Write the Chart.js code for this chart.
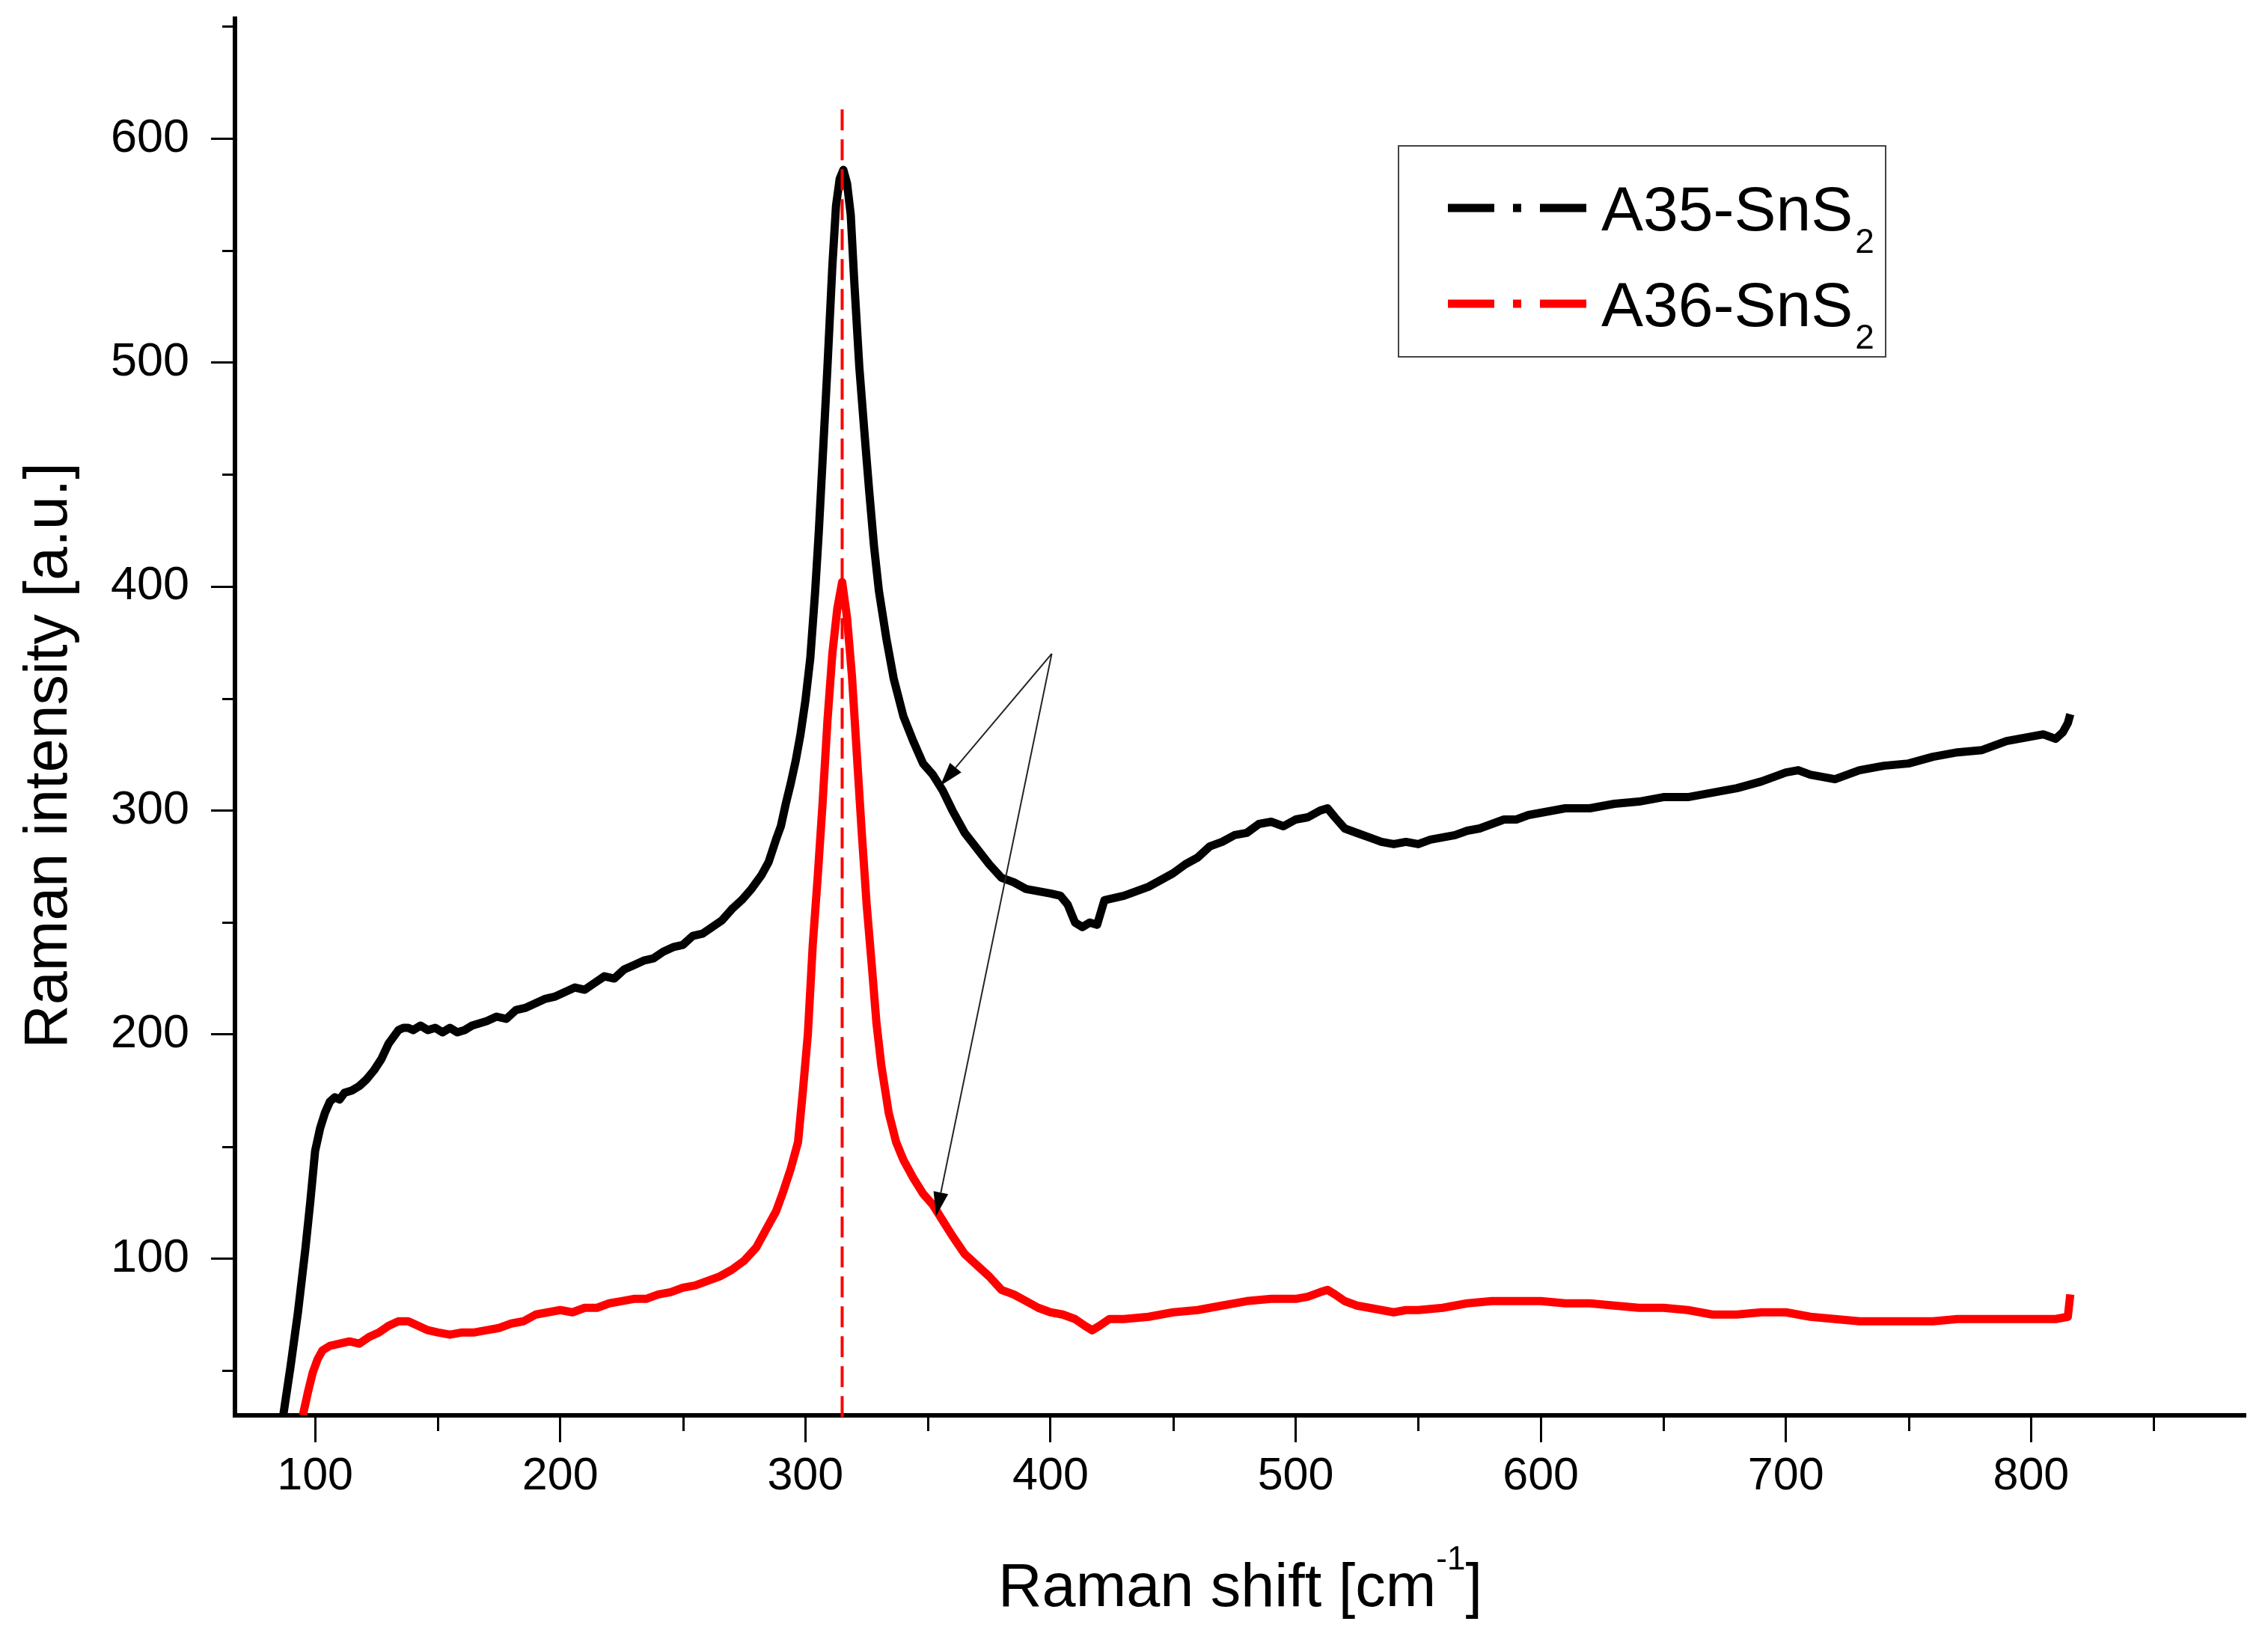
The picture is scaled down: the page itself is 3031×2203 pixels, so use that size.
<!DOCTYPE html>
<html>
<head>
<meta charset="utf-8">
<script src="https://cdn.jsdelivr.net/npm/chart.js@4.4.0/dist/chart.umd.min.js"></script>
<style>
  html, body { margin: 0; padding: 0; background: #fff; }
  #wrap { width: 3031px; height: 2203px; }
</style>
</head>
<body>
<div id="wrap"><canvas id="raman" width="3031" height="2203"></canvas></div>
<script>
// values (Raman shift in cm-1, intensity in a.u.)
const a35Shift = [87,90,93,96,98,100,102,104,106,108,110,112,115,118,121,124,127,130,132,134,136,138,140,143,146,149,152,155,158,161,164,167,170,174,178,182,186,190,194,198,202,206,210,214,218,222,226,230,234,238,242,246,250,254,258,262,266,270,274,278,282,285,288,290,292,294,296,298,300,302,304,305.5,307,309,311,312.5,314,315.5,317,318.5,320,322,324,326,328,330,333,336,340,344,348,352,356,360,365,370,375,380,385,390,395,400,404,407,410,413,416,419,422,426,430,435,440,445,450,455,460,465,470,475,480,485,490,495,500,505,510,513,516,520,525,530,535,540,545,550,555,560,565,570,575,580,585,590,595,600,610,620,630,640,650,660,670,680,690,700,705,710,715,720,730,740,750,760,770,780,790,800,805,810,813,815,816];
const a35Int = [30,52,76,104,125,148,158,165,170,172,171,174,175,177,180,184,189,196,199,202,203,203,202,204,202,203,201,203,201,202,204,205,206,208,207,211,212,214,216,217,219,221,220,223,226,225,229,231,233,234,237,239,240,244,245,248,251,256,260,265,271,277,287,293,303,312,322,334,349,368,398,425,456,498,543,570,582,586,580,566,535,498,470,443,418,398,377,359,342,331,321,316,309,300,290,283,276,270,268,265,264,263,262,258,250,248,250,249,260,261,262,264,266,269,272,276,279,284,286,289,290,294,295,293,296,297,300,301,297,292,290,288,286,285,286,285,287,288,289,291,292,294,296,296,298,299,301,301,303,304,306,306,308,310,313,317,318,316,315,314,318,320,321,324,326,327,331,333,334,332,335,339,343];

const a36Shift = [95,97,99,101,103,106,110,114,118,122,126,130,134,138,142,146,150,155,160,165,170,175,180,185,190,195,200,205,210,215,220,225,230,235,240,245,250,255,260,265,270,275,280,284,288,291,294,297,299,301,303,305,307,309,311,313,315,317,319,321,323,325,327,329,331,334,337,340,344,348,352,356,360,365,370,375,380,385,390,395,400,405,410,414,417,420,424,430,440,450,460,470,480,490,500,505,510,513,516,520,525,530,535,540,545,550,560,570,580,590,600,610,620,630,640,650,660,670,680,690,700,710,720,730,740,750,760,770,780,790,800,810,815,816];
const a36Int = [30,40,49,55,59,61,62,63,62,65,67,70,72,72,70,68,67,66,67,67,68,69,71,72,75,76,77,76,78,78,80,81,82,82,84,85,87,88,90,92,95,99,105,113,121,130,140,152,175,200,240,270,303,340,370,390,402,386,360,325,290,258,232,205,186,165,152,144,136,129,124,117,110,102,97,92,86,84,81,78,76,75,73,70,68,70,73,73,74,76,77,79,81,82,82,83,85,86,84,81,79,78,77,76,77,77,78,80,81,81,81,80,80,79,78,78,77,75,75,76,76,74,73,72,72,72,72,73,73,73,73,73,74,84];

const seriesNames = ['A35-SnS2', 'A36-SnS2'];
const seriesColors = ['#000000', '#ff0000'];

const xTicks = [100, 200, 300, 400, 500, 600, 700, 800];
const xMinor = [150, 250, 350, 450, 550, 650, 750, 850];
const yTicks = [100, 200, 300, 400, 500, 600];
const yMinor = [50, 150, 250, 350, 450, 550, 650];

// dashed marker at the A1g peak and the two annotation arrows
const peakPos = 315;
const peakLineY = [613, 28];
const arrowFrom = [400.5, 370];
const arrowTo = [[355, 311], [353.3, 119]];

const FONT = '"Liberation Sans", Arial, sans-serif';

function toPoints(xs, ys) {
  return xs.map((v, i) => ({ x: v, y: ys[i] }));
}

function drawArrow(ctx, sx, sy, ex, ey) {
  const ang = Math.atan2(ey - sy, ex - sx);
  const len = 32, half = 10;
  const bx = ex - len * Math.cos(ang), by = ey - len * Math.sin(ang);
  ctx.strokeStyle = '#222';
  ctx.lineWidth = 2;
  ctx.beginPath();
  ctx.moveTo(sx, sy);
  ctx.lineTo(bx, by);
  ctx.stroke();
  ctx.fillStyle = '#000';
  ctx.beginPath();
  ctx.moveTo(ex, ey);
  ctx.lineTo(bx + half * Math.sin(ang), by - half * Math.cos(ang));
  ctx.lineTo(bx - half * Math.sin(ang), by + half * Math.cos(ang));
  ctx.closePath();
  ctx.fill();
}

// drop the label overhang Chart.js reserves, so the plot box is set by layout.padding alone
function noOverhang(s) {
  s.paddingTop = 0;
  s.paddingBottom = 0;
  s.paddingLeft = 0;
  s.paddingRight = 0;
}

const extras = {
  id: 'extras',
  afterDatasetsDraw(chart) {
    const { ctx, scales: { x, y } } = chart;
    ctx.save();
    const sx = x.getPixelForValue(arrowFrom[0]), sy = y.getPixelForValue(arrowFrom[1]);
    arrowTo.forEach(p => drawArrow(ctx, sx, sy, x.getPixelForValue(p[0]), y.getPixelForValue(p[1])));
    ctx.restore();
  },
  afterDraw(chart) {
    const { ctx, chartArea: area, scales: { x, y } } = chart;
    ctx.save();

    // minor ticks
    ctx.strokeStyle = '#000';
    ctx.lineWidth = 3;
    ctx.beginPath();
    xMinor.forEach(v => {
      const px = Math.round(x.getPixelForValue(v)) + 0.5;
      ctx.moveTo(px, area.bottom);
      ctx.lineTo(px, area.bottom + 21);
    });
    yMinor.forEach(v => {
      const py = Math.round(y.getPixelForValue(v)) + 0.5;
      ctx.moveTo(area.left - 17, py);
      ctx.lineTo(area.left, py);
    });
    ctx.stroke();

    ctx.fillStyle = '#000';
    ctx.textBaseline = 'alphabetic';

    // x title with superscript
    const main = 'Raman shift [cm';
    ctx.font = '81px ' + FONT;
    const wMain = ctx.measureText(main).width;
    const wBr = ctx.measureText(']').width;
    ctx.font = '44px ' + FONT;
    const wSup = ctx.measureText('-1').width;
    const total = wMain + wSup + wBr;
    const tx = (area.left + area.right) / 2 - total / 2;
    const base = 2147;
    ctx.font = '81px ' + FONT;
    ctx.textAlign = 'left';
    ctx.fillText(main, tx, base);
    ctx.font = '44px ' + FONT;
    ctx.fillText('-1', tx + wMain, base - 49);
    ctx.font = '81px ' + FONT;
    ctx.fillText(']', tx + wMain + wSup, base);

    // y title
    ctx.save();
    ctx.translate(89, 1010);
    ctx.rotate(-Math.PI / 2);
    ctx.textAlign = 'center';
    ctx.fillText('Raman intensity [a.u.]', 0, 0);
    ctx.restore();

    // legend box
    const bx = 1869, by = 195, bw = 651, bh = 282;
    ctx.fillStyle = '#fff';
    ctx.fillRect(bx, by, bw, bh);
    ctx.strokeStyle = '#444';
    ctx.lineWidth = 2;
    ctx.strokeRect(bx, by, bw, bh);
    const rows = [278, 406];
    chart.data.datasets.slice(0, 2).forEach((ds, i) => {
      const ly = rows[i];
      ctx.strokeStyle = ds.borderColor;
      ctx.lineWidth = 11;
      ctx.lineCap = 'butt';
      ctx.setLineDash([62, 25, 11, 25, 62]);
      ctx.beginPath();
      ctx.moveTo(1935, ly);
      ctx.lineTo(2122, ly);
      ctx.stroke();
      ctx.setLineDash([]);
      const label = ds.label;
      ctx.fillStyle = '#000';
      ctx.textAlign = 'left';
      ctx.font = '84px ' + FONT;
      const body = label.slice(0, -1);
      ctx.fillText(body, 2140, ly + 30);
      const w = ctx.measureText(body).width;
      ctx.font = '46px ' + FONT;
      ctx.fillText(label.slice(-1), 2140 + w + 3, ly + 60);
    });

    ctx.restore();
  }
};

new Chart(document.getElementById('raman'), {
  type: 'line',
  data: {
    datasets: [
      {
        label: seriesNames[0],
        data: toPoints(a35Shift, a35Int),
        borderColor: seriesColors[0],
        borderWidth: 11,
        pointRadius: 0,
        tension: 0,
        borderJoinStyle: 'round',
        order: 2
      },
      {
        label: seriesNames[1],
        data: toPoints(a36Shift, a36Int),
        borderColor: seriesColors[1],
        borderWidth: 11,
        pointRadius: 0,
        tension: 0,
        borderJoinStyle: 'round',
        order: 1
      },
      {
        label: 'peak',
        data: peakLineY.map(v => ({ x: peakPos, y: v })),
        borderColor: '#ff0000',
        borderWidth: 4,
        borderDash: [28, 12],
        pointRadius: 0,
        clip: false,
        order: 0
      }
    ]
  },
  options: {
    responsive: false,
    animation: false,
    devicePixelRatio: 1,
    layout: { padding: { top: 25, right: 30, left: 0, bottom: 0 } },
    plugins: { legend: { display: false }, tooltip: { enabled: false } },
    scales: {
      x: {
        type: 'linear',
        min: 67.3,
        max: 887.5,
        afterBuildTicks: s => { s.ticks = xTicks.map(v => ({ value: v })); },
        afterFit: s => { s.height = 311; noOverhang(s); },
        grid: { display: true, drawOnChartArea: false, drawTicks: true, tickLength: 36, tickWidth: 3, tickColor: '#000', color: '#000' },
        border: { display: true, width: 6, color: '#000' },
        ticks: { autoSkip: false, maxRotation: 0, padding: 10, color: '#000', font: { family: FONT, size: 61 } }
      },
      y: {
        type: 'linear',
        min: 30,
        max: 653.5,
        afterBuildTicks: s => { s.ticks = yTicks.map(v => ({ value: v })); },
        afterFit: s => { s.width = 314; noOverhang(s); },
        grid: { display: true, drawOnChartArea: false, drawTicks: true, tickLength: 32, tickWidth: 3, tickColor: '#000', color: '#000' },
        border: { display: true, width: 6, color: '#000' },
        ticks: { autoSkip: false, padding: 29, color: '#000', font: { family: FONT, size: 63 } }
      }
    }
  },
  plugins: [extras]
});
</script>
</body>
</html>
